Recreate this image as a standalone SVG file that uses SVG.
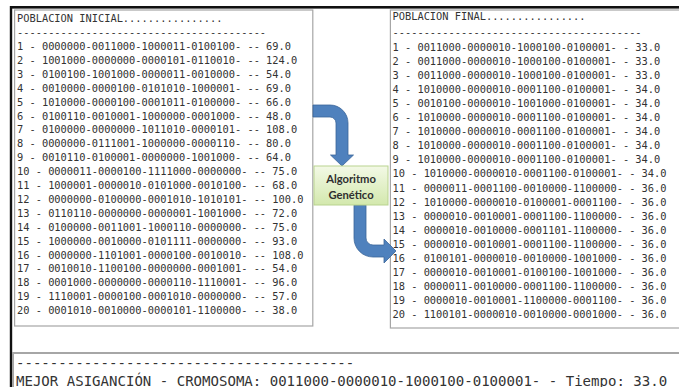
<svg xmlns="http://www.w3.org/2000/svg" width="679" height="387" viewBox="0 0 679 387">
<style>
.mono{font-family:"DejaVu Sans Mono","Liberation Mono",monospace;font-size:10.35px;fill:#333;white-space:pre}
.big{font-family:"DejaVu Sans Mono","Liberation Mono",monospace;font-size:14.05px;fill:#333;white-space:pre}
.panel{fill:#fff;stroke:#a6a6a6;stroke-width:1.2}
.lbl{font-family:Lato,"Open Sans","Liberation Sans",sans-serif;font-weight:bold;font-size:11.2px;fill:#2f2f2f;text-anchor:middle}
.arrow{fill:#4f81bd;stroke:#3b6699;stroke-width:0.8}
</style>
<defs>
<linearGradient id="gg" x1="0" y1="0" x2="0" y2="1">
<stop offset="0" stop-color="#f3f9e6"/>
<stop offset="1" stop-color="#d3e8ad"/>
</linearGradient>
</defs>
<rect x="0" y="0" width="679" height="387" fill="#fff"/>
<g id="frame">
<rect x="10" y="6" width="669" height="2.6" fill="#111"/>
<rect x="9.8" y="6" width="2.4" height="381" fill="#111"/>
</g>
<g id="poblacion-inicial">
<rect class="panel" x="14.6" y="10" width="298.2" height="316"/>
<text class="mono" x="17" y="21.5">POBLACION INICIAL................</text>
<text class="mono" x="17" y="36">----------------------------------------</text>
<text class="mono" x="17" y="50">1 - 0000000-0011000-1000011-0100100- -- 69.0</text>
<text class="mono" x="17" y="63.9">2 - 1001000-0000000-0000101-0110010- -- 124.0</text>
<text class="mono" x="17" y="77.8">3 - 0100100-1001000-0000011-0010000- -- 54.0</text>
<text class="mono" x="17" y="91.7">4 - 0010000-0000100-0101010-1000001- -- 69.0</text>
<text class="mono" x="17" y="105.6">5 - 1010000-0000100-0001011-0100000- -- 66.0</text>
<text class="mono" x="17" y="119.5">6 - 0100110-0010001-1000000-0001000- -- 48.0</text>
<text class="mono" x="17" y="133.4">7 - 0100000-0000000-1011010-0000101- -- 108.0</text>
<text class="mono" x="17" y="147.3">8 - 0000000-0111001-1000000-0000110- -- 80.0</text>
<text class="mono" x="17" y="161.2">9 - 0010110-0100001-0000000-1001000- -- 64.0</text>
<text class="mono" x="17" y="175.1">10 - 0000011-0000100-1111000-0000000- -- 75.0</text>
<text class="mono" x="17" y="189">11 - 1000001-0000010-0101000-0010100- -- 68.0</text>
<text class="mono" x="17" y="202.9">12 - 0000000-0100000-0001010-1010101- -- 100.0</text>
<text class="mono" x="17" y="216.8">13 - 0110110-0000000-0000001-1001000- -- 72.0</text>
<text class="mono" x="17" y="230.7">14 - 0100000-0011001-1000110-0000000- -- 75.0</text>
<text class="mono" x="17" y="244.6">15 - 1000000-0010000-0101111-0000000- -- 93.0</text>
<text class="mono" x="17" y="258.5">16 - 0000000-1101001-0000100-0010010- -- 108.0</text>
<text class="mono" x="17" y="272.4">17 - 0010010-1100100-0000000-0001001- -- 54.0</text>
<text class="mono" x="17" y="286.3">18 - 0001000-0000000-0000110-1110001- -- 96.0</text>
<text class="mono" x="17" y="300.2">19 - 1110001-0000100-0001010-0000000- -- 57.0</text>
<text class="mono" x="17" y="314.1">20 - 0001010-0010000-0000101-1100000- -- 38.0</text>
</g>
<g id="poblacion-final">
<rect class="panel" x="390.4" y="10" width="300" height="318"/>
<text class="mono" x="392.5" y="20">POBLACION FINAL................</text>
<text class="mono" x="392.5" y="36">----------------------------------------</text>
<text class="mono" x="392.5" y="50.5">1 - 0011000-0000010-1000100-0100001- - 33.0</text>
<text class="mono" x="392.5" y="64.6">2 - 0011000-0000010-1000100-0100001- - 33.0</text>
<text class="mono" x="392.5" y="78.7">3 - 0011000-0000010-1000100-0100001- - 33.0</text>
<text class="mono" x="392.5" y="92.8">4 - 1010000-0000010-0001100-0100001- - 34.0</text>
<text class="mono" x="392.5" y="106.9">5 - 0010100-0000010-1001000-0100001- - 34.0</text>
<text class="mono" x="392.5" y="121">6 - 1010000-0000010-0001100-0100001- - 34.0</text>
<text class="mono" x="392.5" y="135.1">7 - 1010000-0000010-0001100-0100001- - 34.0</text>
<text class="mono" x="392.5" y="149.2">8 - 1010000-0000010-0001100-0100001- - 34.0</text>
<text class="mono" x="392.5" y="163.3">9 - 1010000-0000010-0001100-0100001- - 34.0</text>
<text class="mono" x="392.5" y="177.4">10 - 1010000-0000010-0001100-0100001- - 34.0</text>
<text class="mono" x="392.5" y="191.5">11 - 0000011-0001100-0010000-1100000- - 36.0</text>
<text class="mono" x="392.5" y="205.6">12 - 1010000-0000010-0100001-0001100- - 36.0</text>
<text class="mono" x="392.5" y="219.7">13 - 0000010-0010001-0001100-1100000- - 36.0</text>
<text class="mono" x="392.5" y="233.8">14 - 0000010-0010000-0001101-1100000- - 36.0</text>
<text class="mono" x="392.5" y="247.9">15 - 0000010-0010001-0001100-1100000- - 36.0</text>
<text class="mono" x="392.5" y="262">16 - 0100101-0000010-0010000-1001000- - 36.0</text>
<text class="mono" x="392.5" y="276.1">17 - 0000010-0010001-0100100-1001000- - 36.0</text>
<text class="mono" x="392.5" y="290.2">18 - 0000011-0010000-0001100-1100000- - 36.0</text>
<text class="mono" x="392.5" y="304.3">19 - 0000010-0010001-1100000-0001100- - 36.0</text>
<text class="mono" x="392.5" y="318.4">20 - 1100101-0000010-0010000-0001000- - 36.0</text>
</g>
<g id="connectors">
<path class="arrow" d="M313,105 H330 A18,18 0 0 1 348,123 V155 H353.5 L342,166 L330.5,155 H336 V123 A6,6 0 0 0 330,117 H313 Z"/>
<path class="arrow" d="M354,205 V238 A19,19 0 0 0 373,257 H384 V263 L396,251 L384,239 V245 H373 A7,7 0 0 1 366,238 V205 Z"/>
</g>
<g id="algoritmo-genetico">
<rect x="314" y="166" width="74" height="39" fill="url(#gg)" stroke="#b9d38f" stroke-width="1"/>
<text class="lbl" x="351" y="182.5">Algoritmo</text>
<text class="lbl" x="351" y="198.5">Genético</text>
</g>
<g id="mejor-asignacion">
<rect x="13" y="353" width="680" height="40" fill="#fff" stroke="#a6a6a6" stroke-width="2"/>
<text class="big" x="16" y="368">----------------------------------------</text>
<text class="big" x="16" y="385.5">MEJOR ASIGANCIÓN - CROMOSOMA: 0011000-0000010-1000100-0100001- - Tiempo: 33.0</text>
</g>
</svg>
